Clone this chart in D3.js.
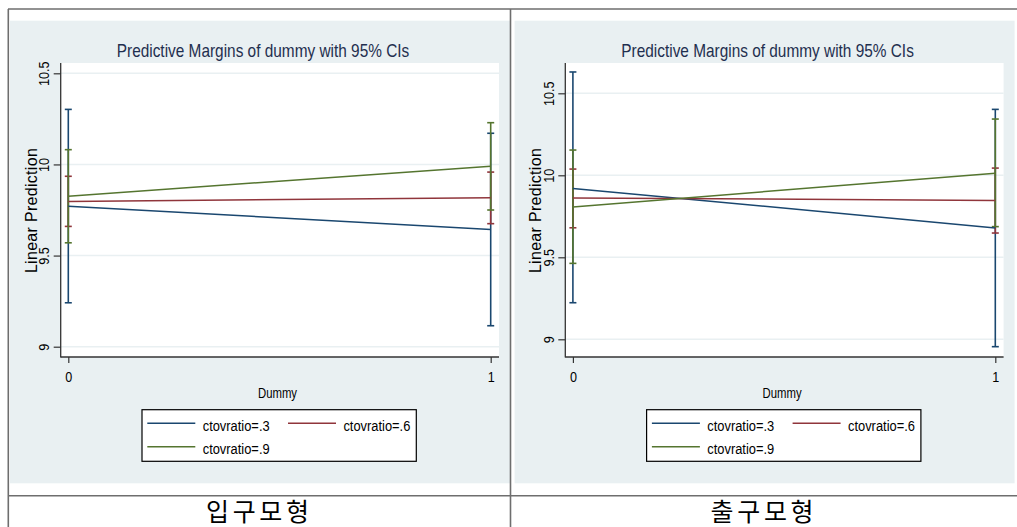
<!DOCTYPE html>
<html>
<head>
<meta charset="utf-8">
<script src="https://cdn.jsdelivr.net/npm/d3@7"></script>
<style>
  body { margin: 0; background: #fff; }
  svg { display: block; font-family: "Liberation Sans", Arial, sans-serif; }
</style>
</head>
<body>
<svg id="chart" width="1017" height="527"></svg>
<script>
// values
const groups = ['ctovratio=.3', 'ctovratio=.6', 'ctovratio=.9'];
const dummyLevels = [0, 1];
const yTicks = [9, 9.5, 10, 10.5];
const panelNames = ['입구모형', '출구모형'];

// 입구모형 (left)
const inMean = [[9.771, 9.643], [9.797, 9.817], [9.826, 9.990]];
const inLow  = [[9.241, 9.115], [9.660, 9.675], [9.570, 9.750]];
const inHigh = [[10.302, 10.171], [9.935, 9.958], [10.081, 10.229]];

// 출구모형 (right)
const outMean = [[9.920, 9.679], [9.862, 9.846], [9.807, 10.013]];
const outLow  = [[9.223, 8.955], [9.680, 9.648], [9.463, 9.687]];
const outHigh = [[10.630, 10.402], [10.038, 10.044], [10.154, 10.343]];

const colors = ['#1a476f', '#90353b', '#55752f'];
const bg = '#e9f0f2';

const svg = d3.select('#chart');

// squeeze text horizontally (the original font is narrow)
function squeeze(sel, k) {
    sel.each(function() {
        const len = this.getComputedTextLength();
        d3.select(this).attr('textLength', len * k).attr('lengthAdjust', 'spacingAndGlyphs');
    });
}

function drawPanel(dx, yTop, yBottom, mean, low, high, name) {
    const g = svg.append('g').attr('transform', `translate(${dx},0)`);
    const plotL = 60.7, plotR = 499, plotT = 63, plotB = 357;

    g.append('rect').attr('x', 10).attr('y', 20.7).attr('width', 500).attr('height', 462.6).attr('fill', bg);
    g.append('rect').attr('x', plotL).attr('y', plotT).attr('width', plotR - plotL).attr('height', plotB - plotT).attr('fill', '#fff');

    const x = d3.scaleLinear().domain([0, 1]).range([68.3, 490.7]);
    const y = d3.scaleLinear().domain([9, 10.5]).range([yBottom, yTop]);

    // gridlines
    g.selectAll('.grid').data(yTicks).enter().append('line')
        .attr('x1', plotL).attr('x2', plotR)
        .attr('y1', d => y(d)).attr('y2', d => y(d))
        .attr('stroke', bg).attr('stroke-width', 1.5);

    // y axis
    const yAxis = g.append('g').attr('transform', `translate(${plotL},0)`)
        .call(d3.axisLeft(y).tickValues(yTicks).tickSize(7).tickFormat(d3.format('')));
    yAxis.select('.domain').remove();
    yAxis.selectAll('.tick line').attr('stroke', '#333').attr('stroke-width', 1.2);
    yAxis.selectAll('.tick text')
        .attr('x', null).attr('dy', null)
        .attr('transform', 'translate(-11.4,0) rotate(-90)')
        .attr('text-anchor', 'middle')
        .attr('font-size', 15).attr('fill', '#000')
        .attr('font-family', '"Liberation Sans", Arial, sans-serif')
        .call(squeeze, 0.84);

    // x axis
    const xAxis = g.append('g').attr('transform', `translate(0,${plotB})`)
        .call(d3.axisBottom(x).tickValues(dummyLevels).tickSize(6).tickFormat(d3.format('d')));
    xAxis.select('.domain').remove();
    xAxis.selectAll('.tick line').attr('stroke', '#333').attr('stroke-width', 1.2);
    xAxis.selectAll('.tick text')
        .attr('y', 24.7).attr('dy', null)
        .attr('font-size', 15).attr('fill', '#000')
        .attr('font-family', '"Liberation Sans", Arial, sans-serif')
        .call(squeeze, 0.84);

    // axis lines
    g.append('line').attr('x1', plotL).attr('x2', plotL).attr('y1', plotT).attr('y2', plotB + 0.6)
        .attr('stroke', '#333').attr('stroke-width', 1.3);
    g.append('line').attr('x1', plotL).attr('x2', plotR).attr('y1', plotB).attr('y2', plotB)
        .attr('stroke', '#333').attr('stroke-width', 1.3);

    // confidence intervals
    groups.forEach((grp, i) => {
        const ci = g.append('g').attr('stroke', colors[i]).attr('stroke-width', 1.6);
        dummyLevels.forEach((d, j) => {
            ci.append('line').attr('x1', x(d)).attr('x2', x(d)).attr('y1', y(low[i][j])).attr('y2', y(high[i][j]));
            [low[i][j], high[i][j]].forEach(v => {
                ci.append('line').attr('x1', x(d) - 3.5).attr('x2', x(d) + 3.5).attr('y1', y(v)).attr('y2', y(v));
            });
        });
    });

    // margin lines
    const line = d3.line().x((v, j) => x(dummyLevels[j])).y(v => y(v));
    groups.forEach((grp, i) => {
        g.append('path').datum(mean[i]).attr('d', line)
            .attr('fill', 'none').attr('stroke', colors[i]).attr('stroke-width', 1.5);
    });

    // titles
    g.append('text').attr('x', 263).attr('y', 57).attr('text-anchor', 'middle')
        .attr('font-size', 19).attr('fill', '#1f2f4f')
        .text('Predictive Margins of dummy with 95% CIs').call(squeeze, 0.81);
    g.append('text').attr('transform', 'translate(36.7,210.5) rotate(-90)').attr('text-anchor', 'middle')
        .attr('font-size', 16).attr('fill', '#000').attr('letter-spacing', 0.3)
        .text('Linear Prediction');
    g.append('text').attr('x', 277.5).attr('y', 398).attr('text-anchor', 'middle')
        .attr('font-size', 14).attr('fill', '#000')
        .text('Dummy').call(squeeze, 0.81);

    // legend
    const leg = g.append('g');
    leg.append('rect').attr('x', 142).attr('y', 409.7).attr('width', 274.3).attr('height', 51.6)
        .attr('fill', '#fff').attr('stroke', '#000').attr('stroke-width', 1.2);
    const legPos = [[147.3, 423.3], [288, 423.3], [147.3, 446.7]];
    groups.forEach((grp, i) => {
        const [lx, ly] = legPos[i];
        leg.append('line').attr('x1', lx).attr('x2', lx + 48).attr('y1', ly).attr('y2', ly)
            .attr('stroke', colors[i]).attr('stroke-width', 1.5);
        leg.append('text').attr('x', lx + 55.4).attr('y', ly + 7.3)
            .attr('font-size', 14).attr('fill', '#000')
            .text(grp).call(squeeze, 0.92);
    });

    // panel caption below the table line
    g.append('text').attr('x', 257.5).attr('y', 521).attr('text-anchor', 'middle')
        .attr('font-family', '"Noto Sans CJK KR", sans-serif')
        .attr('font-size', 25).attr('fill', '#000')
        .attr('textLength', 103).attr('lengthAdjust', 'spacing')
        .text(name);
}

drawPanel(0, 73.3, 346.7, inMean, inLow, inHigh, panelNames[0]);
drawPanel(504.6, 93.3, 339.3, outMean, outLow, outHigh, panelNames[1]);

// table rules
const rule = svg.append('g').attr('stroke', '#6e6e6e').attr('stroke-width', 1.6);
rule.append('line').attr('x1', 8).attr('x2', 1017).attr('y1', 9).attr('y2', 9);
rule.append('line').attr('x1', 8).attr('x2', 1017).attr('y1', 495.7).attr('y2', 495.7);
rule.append('line').attr('x1', 8.3).attr('x2', 8.3).attr('y1', 9).attr('y2', 527);
rule.append('line').attr('x1', 510.5).attr('x2', 510.5).attr('y1', 9).attr('y2', 527);
</script>
</body>
</html>
